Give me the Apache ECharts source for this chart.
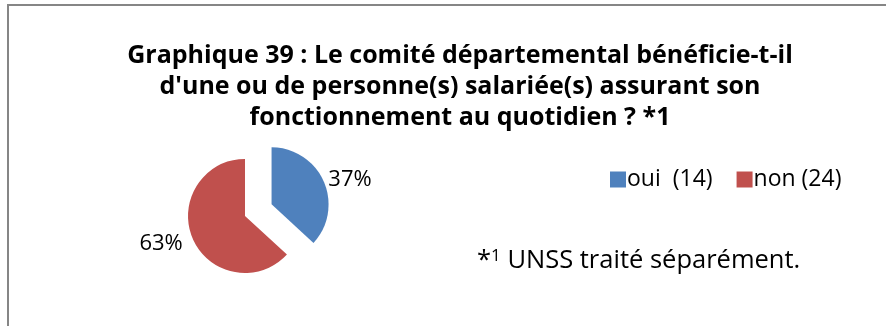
<!DOCTYPE html>
<html>
<head>
<meta charset="utf-8">
<script src="https://cdn.jsdelivr.net/npm/echarts@6/dist/echarts.min.js"></script>
<style>
  html, body { margin: 0; padding: 0; background: #fff; }
  #chart { width: 886px; height: 326px; }
</style>
</head>
<body>
<div id="chart"></div>
<script>
// Répartition des comités départementaux
const categories = ['oui  (14)', 'non (24)'];
const counts = [14, 24];
const colors = ['#4F81BD', '#C0504D'];
const titleLines = [
  'Graphique 39 : Le comité départemental bénéficie-t-il',
  "d'une ou de personne(s) salariée(s) assurant son",
  'fonctionnement au quotidien ? *1'
];

const FONT = '"Open Sans", "Noto Sans", sans-serif';

const chart = echarts.init(document.getElementById('chart'));

chart.setOption({
  animation: false,
  backgroundColor: '#ffffff',
  title: {
    text: titleLines.join('\n'),
    left: 455,
    top: 35,
    textAlign: 'center',
    textStyle: {
      fontFamily: FONT,
      fontWeight: 'bold',
      fontSize: 25,
      lineHeight: 31,
      color: '#000'
    }
  },
  legend: {
    left: 605,
    top: 163,
    itemWidth: 16,
    itemHeight: 16,
    itemGap: 24,
    icon: 'rect',
    selectedMode: false,
    textStyle: { fontFamily: FONT, fontSize: 23, color: '#000', padding: [0, 0, 0, -4] },
    data: categories
  },
  graphic: [
    {
      type: 'rect',
      shape: { x: 8, y: 5, width: 1000, height: 500 },
      style: { fill: 'none', stroke: '#868686', lineWidth: 2 },
      silent: true
    },
    {
      type: 'text',
      left: 477,
      top: 248,
      style: {
        text: '{a|*}{b|1}{a| UNSS traité séparément.}',
        fontFamily: FONT,
        rich: {
          a: { fontFamily: FONT, fontSize: 25.5, color: '#000', verticalAlign: 'bottom' },
          b: { fontFamily: FONT, fontSize: 17, color: '#000', verticalAlign: 'top' }
        }
      }
    }
  ],
  series: [{
    type: 'pie',
    center: [245, 216],
    radius: 57,
    startAngle: 90,
    clockwise: true,
    selectedMode: 'multiple',
    selectedOffset: 29,
    silent: true,
    itemStyle: { borderWidth: 0 },
    label: {
      show: true,
      position: 'outside',
      formatter: p => Math.round(p.percent) + '%',
      fontFamily: FONT,
      fontSize: 22,
      color: '#000',
      distanceToLabelLine: 0
    },
    labelLine: { show: false, length: 5, length2: 0 },
    data: categories.map((name, i) => ({
      name,
      value: counts[i],
      selected: i === 0,
      itemStyle: { color: colors[i] },
      labelLine: i === 1 ? { length: 11, length2: 0 } : undefined
    }))
  }]
});
</script>
</body>
</html>
